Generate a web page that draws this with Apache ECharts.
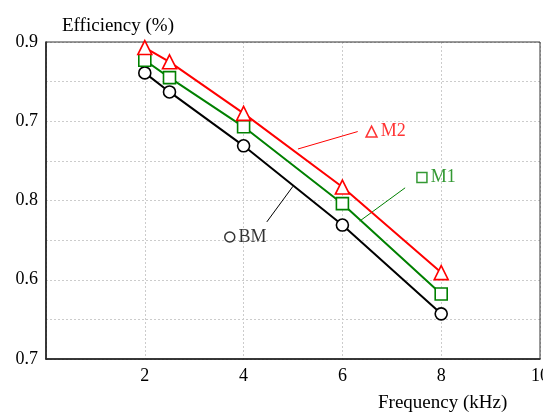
<!DOCTYPE HTML>
<html lang="en">
<head>
<meta charset="utf-8">
<title>Efficiency vs Frequency</title>
<style>
html, body { margin: 0; background: #fff; }
#chart { width: 543px; height: 412px; }
</style>
</head>
<body>
<div id="chart"></div>
<script src="https://cdn.jsdelivr.net/npm/echarts@6/dist/echarts.min.js"></script>
<script>
// frequency (kHz)
var freq = [2, 2.5, 4, 6, 8];
// efficiency
var bm = [0.861, 0.837, 0.769, 0.669, 0.557];
var m1 = [0.877, 0.855, 0.793, 0.696, 0.582];
var m2 = [0.893, 0.875, 0.810, 0.717, 0.609];
// tick labels of the y axis, bottom to top (as printed in the figure)
var yTickLabels = ['0.7', '0.6', '0.8', '0.7', '0.9'];
var xTickLabels = ['', '2', '4', '6', '8', '10'];

// callouts: label point and leader line
var callouts = [
  { name: 'M2', color: '#ff0000', symbol: 'triangle', at: [6.59, 0.787], line: [[5.10, 0.765], [6.31, 0.787]] },
  { name: 'M1', color: '#008000', symbol: 'rect', at: [7.61, 0.729], line: [[6.35, 0.674], [7.27, 0.716]] },
  { name: 'BM', color: '#000000', symbol: 'circle', at: [3.72, 0.654], line: [[4.47, 0.673], [5.0, 0.718]] }
];

var font = '"Liberation Serif", "DejaVu Serif", serif';

function zip(xs, ys) {
  return xs.map(function (x, i) { return [x, ys[i]]; });
}

function dataSeries(name, values, color, symbol) {
  return {
    name: name,
    type: 'line',
    data: zip(freq, values),
    symbol: symbol,
    symbolSize: symbol === 'triangle' ? 14 : 12,
    showAllSymbol: true,
    lineStyle: { color: color, width: 2 },
    itemStyle: { color: '#fff', borderColor: color, borderWidth: 1.6 },
    z: 3
  };
}

var series = [
  dataSeries('BM', bm, '#000000', 'circle'),
  dataSeries('M1', m1, '#008000', 'rect'),
  dataSeries('M2', m2, '#ff0000', 'triangle')
];

callouts.forEach(function (c) {
  series.push({
    type: 'line',
    data: c.line,
    symbol: 'none',
    lineStyle: { color: c.color, width: 1 },
    silent: true,
    z: 2
  });
  series.push({
    type: 'scatter',
    data: [c.at],
    symbol: c.symbol,
    symbolSize: c.symbol === 'triangle' ? 11 : 10,
    itemStyle: { color: '#fff', borderColor: c.color, borderWidth: 1.5 },
    label: {
      show: true,
      position: 'right',
      distance: 3,
      formatter: c.name,
      color: c.color,
      fontFamily: font,
      fontSize: 18
    },
    silent: true,
    z: 4
  });
});

var chart = echarts.init(document.getElementById('chart'), null, { renderer: 'canvas' });
chart.setOption({
  animation: false,
  grid: { left: 46, right: 3, top: 42, bottom: 53, containLabel: false, outerBoundsMode: 'none' },
  graphic: [
    { type: 'text', left: 62, top: 17, style: { text: 'Efficiency (%)', fontFamily: font, fontSize: 19, fill: '#000' } },
    { type: 'text', left: 378, top: 394, style: { text: 'Frequency (kHz)', fontFamily: font, fontSize: 19, fill: '#000' } },
    { type: 'rect', shape: { x: 46, y: 42, width: 494, height: 317 }, style: { fill: 'none', stroke: '#333', lineWidth: 1 }, silent: true, z: 1 }
  ],
  xAxis: {
    type: 'value',
    min: 0,
    max: 10,
    interval: 2,
    axisLine: { show: true, onZero: false, lineStyle: { color: '#000', width: 1.5 } },
    axisTick: { show: false },
    axisLabel: {
      color: '#000', fontFamily: font, fontSize: 18, margin: 8,
      formatter: function (v) { return xTickLabels[Math.round(v / 2)]; }
    },
    splitLine: { show: true, lineStyle: { color: '#cccccc', type: [2, 2], width: 1 } }
  },
  yAxis: {
    type: 'value',
    min: 0.5,
    max: 0.9,
    interval: 0.05,
    axisLine: { show: true, lineStyle: { color: '#000', width: 1.5 } },
    axisTick: { show: false },
    axisLabel: {
      color: '#000', fontFamily: font, fontSize: 18, margin: 8,
      formatter: function (v) {
        var i = Math.round((v - 0.5) / 0.05);
        return i % 2 ? '' : yTickLabels[i / 2];
      }
    },
    splitLine: { show: true, lineStyle: { color: '#cccccc', type: [2, 2], width: 1 } }
  },
  series: series
});
</script>
</body>
</html>
